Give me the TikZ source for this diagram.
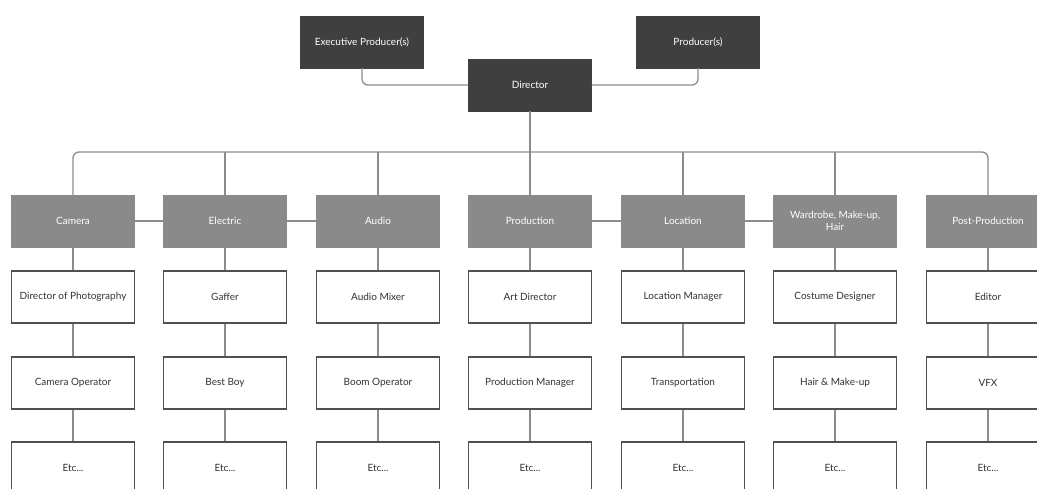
\documentclass[tikz,border=0pt]{standalone}
\usepackage{fontspec}
\setmainfont{Lato}
\usepackage{xcolor}
\usepackage{tikz}

\definecolor{leadgray}{HTML}{3F3F3F}
\definecolor{deptgray}{HTML}{8A8A8A}
\definecolor{linegray}{HTML}{8C8C8C}
\definecolor{edgegray}{HTML}{505050}

\tikzset{
  box/.style={rectangle,minimum width=123pt,minimum height=52pt,inner sep=2pt,
    align=center,font=\fontsize{10}{12}\selectfont},
  lead/.style={box,fill=leadgray,draw=leadgray,text=white},
  dept/.style={box,fill=deptgray,draw=deptgray,text=white},
  role/.style={box,fill=white,draw=edgegray,line width=1.2pt,text=black!80},
  conn/.style={draw=linegray,line width=1.3pt,rounded corners=6pt}
}

\begin{document}
\begin{tikzpicture}[x=1pt,y=-1pt]
\useasboundingbox (0,0) rectangle (1037,488);
\clip (0,0) rectangle (1037,488);

% top
\node[lead] (ep) at (362,42) {Executive Producer(s)};
\node[lead] (pr) at (698,42) {Producer(s)};
\node[lead] (dir) at (530,85) {Director};
\coordinate (bus) at (530,152);

% departments
\node[dept] (d1) at (73,221) {Camera};
\node[dept] (d2) at (225,221) {Electric};
\node[dept] (d3) at (378,221) {Audio};
\node[dept] (d4) at (530,221) {Production};
\node[dept] (d5) at (683,221) {Location};
\node[dept] (d6) at (835,221) {Wardrobe, Make-up,\\Hair};
\node[dept] (d7) at (988,221) {Post-Production};

% first row
\node[role] (a1) at (73,297) {Director of Photography};
\node[role] (a2) at (225,297) {Gaffer};
\node[role] (a3) at (378,297) {Audio Mixer};
\node[role] (a4) at (530,297) {Art Director};
\node[role] (a5) at (683,297) {Location Manager};
\node[role] (a6) at (835,297) {Costume Designer};
\node[role] (a7) at (988,297) {Editor};

% second row
\node[role] (b1) at (73,383) {Camera Operator};
\node[role] (b2) at (225,383) {Best Boy};
\node[role] (b3) at (378,383) {Boom Operator};
\node[role] (b4) at (530,383) {Production Manager};
\node[role] (b5) at (683,383) {Transportation};
\node[role] (b6) at (835,383) {Hair \& Make-up};
\node[role] (b7) at (988,383) {VFX};

% third row
\node[role] (c1) at (73,468) {Etc...};
\node[role] (c2) at (225,468) {Etc...};
\node[role] (c3) at (378,468) {Etc...};
\node[role] (c4) at (530,468) {Etc...};
\node[role] (c5) at (683,468) {Etc...};
\node[role] (c6) at (835,468) {Etc...};
\node[role] (c7) at (988,468) {Etc...};

% producers to director
\path[conn] (ep.south) |- (dir.west);
\path[conn] (pr.south) |- (dir.east);

% bus
\path[conn] (dir.south) -- (bus);
\path[conn] (d1.north) |- (bus) -| (d7.north);
\path[conn] (d2.north) -- (d2.north |- bus);
\path[conn] (d3.north) -- (d3.north |- bus);
\path[conn] (d4.north) -- (bus);
\path[conn] (d5.north) -- (d5.north |- bus);
\path[conn] (d6.north) -- (d6.north |- bus);

% side links
\path[conn] (d1) -- (d2);
\path[conn] (d2) -- (d3);
\path[conn] (d4) -- (d5);
\path[conn] (d5) -- (d6);

% columns
\path[conn] (d1) -- (a1);
\path[conn] (d2) -- (a2);
\path[conn] (d3) -- (a3);
\path[conn] (d4) -- (a4);
\path[conn] (d5) -- (a5);
\path[conn] (d6) -- (a6);
\path[conn] (d7) -- (a7);
\path[conn] (a1) -- (b1);
\path[conn] (a2) -- (b2);
\path[conn] (a3) -- (b3);
\path[conn] (a4) -- (b4);
\path[conn] (a5) -- (b5);
\path[conn] (a6) -- (b6);
\path[conn] (a7) -- (b7);
\path[conn] (b1) -- (c1);
\path[conn] (b2) -- (c2);
\path[conn] (b3) -- (c3);
\path[conn] (b4) -- (c4);
\path[conn] (b5) -- (c5);
\path[conn] (b6) -- (c6);
\path[conn] (b7) -- (c7);
\end{tikzpicture}
\end{document}
